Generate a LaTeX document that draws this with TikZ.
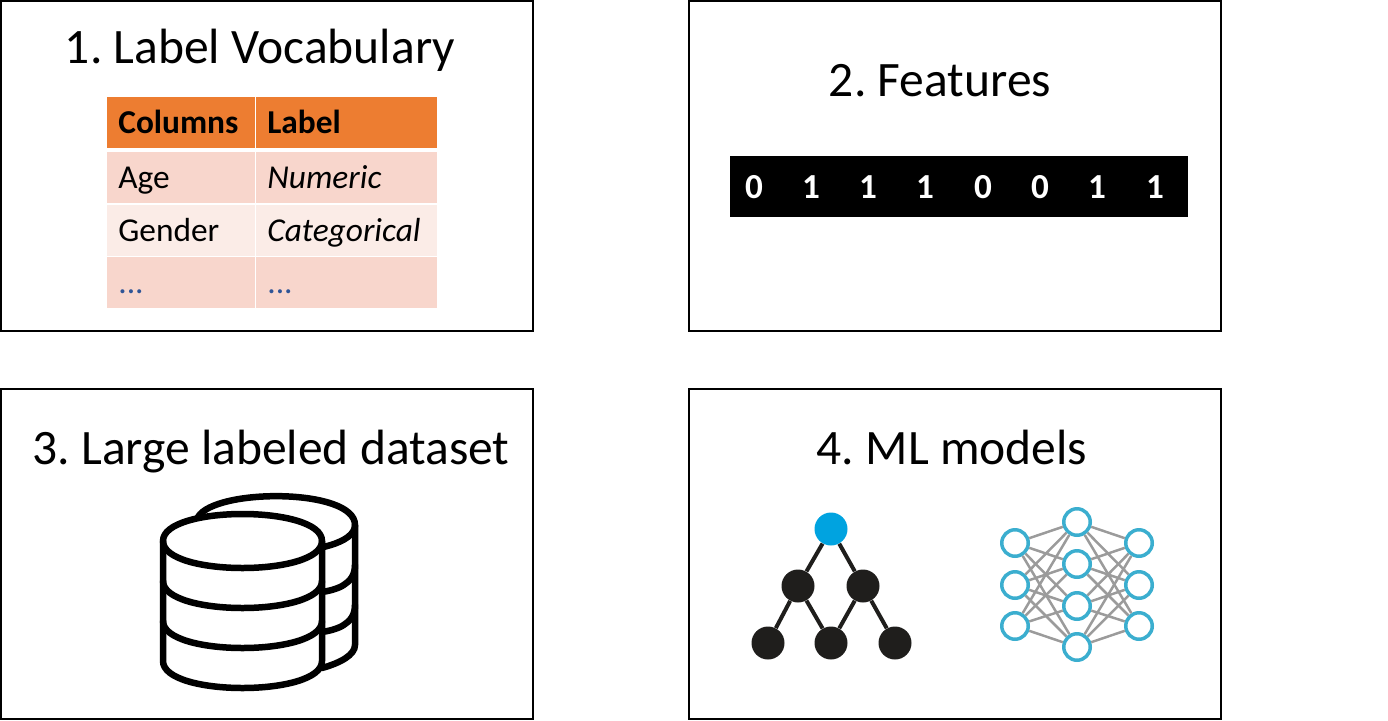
\documentclass[tikz,border=0pt]{standalone}
\usepackage{fontspec}
\setmainfont{Carlito}
\usepackage{tikz}

\definecolor{headorange}{HTML}{ED7D31}
\definecolor{rowdark}{HTML}{F8D6CC}
\definecolor{rowlight}{HTML}{FBECE7}
\definecolor{dotblue}{HTML}{2F5597}
\definecolor{rootblue}{HTML}{00A3E0}
\definecolor{treeblack}{HTML}{1F1E1C}
\definecolor{ringblue}{HTML}{3BAECF}
\definecolor{linkgray}{HTML}{9B9B9B}

\frenchspacing

\begin{document}
\begin{tikzpicture}[
    x=0.02cm,
    y=-0.02cm,
    panel/.style={
        draw=black,
        line width=0.03cm,
        minimum width=10.64cm,
        minimum height=6.6cm,
        inner sep=0pt
    },
    title/.style={
        anchor=base,
        inner sep=0pt,
        font=\fontsize{28.2pt}{32pt}\selectfont
    },
    cell/.style={
        anchor=north west,
        inner xsep=0.22cm,
        inner ysep=0pt,
        align=left,
        text height=0.59cm,
        text depth=0.16cm,
        minimum height=1.02cm,
        font=\fontsize{19pt}{22pt}\selectfont
    },
    leftcell/.style={cell, text width=2.51cm},
    rightcell/.style={cell, text width=3.18cm},
    digit/.style={
        text=white,
        inner sep=0pt,
        font=\fontsize{20pt}{22pt}\selectfont\bfseries
    },
    treenode/.style={
        circle,
        fill=treeblack,
        inner sep=0pt,
        minimum size=0.66cm
    },
    rootnode/.style={treenode, fill=rootblue},
    treeedge/.style={draw=treeblack, line width=0.08cm},
    neuron/.style={
        circle,
        draw=ringblue,
        fill=white,
        line width=0.07cm,
        inner sep=0pt,
        minimum size=0.53cm
    },
    link/.style={draw=linkgray, line width=0.05cm},
    dbline/.style={draw=black, line width=0.13cm, line join=round, line cap=round}
]

\useasboundingbox (0,0) rectangle (1388,720);

\node (vocab) [panel] at (267,166) {};
\node (features) [panel] at (955,166) {};
\node (dataset) [panel] at (267,554) {};
\node (models) [panel] at (955,554) {};

\node (vocabtitle) [title] at (260,63) {1. Label Vocabulary};
\node (featurestitle) [title] at (940,96) {2. Features};
\node (datasettitle) [title] at (271,464) {3. Large labeled dataset};
\node (modelstitle) [title] at (952,464) {4. ML models};

\node (colhead) [leftcell, fill=headorange] at (107,97) {\textbf{Columns}};
\node (labelhead) [rightcell, fill=headorange] at (256,97) {\textbf{Label}};
\node (age) [leftcell, fill=rowdark] at (107,152) {Age};
\node (numeric) [rightcell, fill=rowdark] at (256,152) {\textit{Numeric}};
\node (gender) [leftcell, fill=rowlight] at (107,205) {Gender};
\node (categorical) [rightcell, fill=rowlight] at (256,205) {\textit{Categorical}};
\node (moreleft) [leftcell, fill=rowdark, text=dotblue] at (107,257) {...};
\node (moreright) [rightcell, fill=rowdark, text=dotblue] at (256,257) {...};

\node (strip) [fill=black, inner sep=0pt, minimum width=9.16cm, minimum height=1.22cm] at (959,186.5) {};
\foreach \i/\x/\b in {1/754/0,2/811/1,3/868/1,4/925/1,5/983/0,6/1040/0,7/1097/1,8/1155/1}
    \node (bit\i) [digit] at (\x,187) {\b};

\draw [dbline] (198,517) .. controls (215,488) and (355,488) .. (355,525) -- (355,645)
    .. controls (355,655) and (340,663) .. (322,668);
\draw [dbline] (355,525) .. controls (355,561) and (195,561) .. (195,525);
\foreach \y in {565,605}
    \draw [dbline] (355,\y) .. controls (355,\y+20) and (335,\y+25) .. (322,\y+27);

\draw [dbline, fill=white] (163,541) .. controls (163,505) and (322,505) .. (322,541) -- (322,661)
    .. controls (322,697) and (163,697) .. (163,661) -- cycle;
\foreach \y in {541,581,621}
    \draw [dbline] (163,\y) .. controls (163,\y+36) and (322,\y+36) .. (322,\y);

\node (root) [rootnode] at (831,529) {};
\node (midleft) [treenode] at (798,586) {};
\node (midright) [treenode] at (863,586) {};
\node (leafa) [treenode] at (768,643) {};
\node (leafb) [treenode] at (831,643) {};
\node (leafc) [treenode] at (895,643) {};

\draw [treeedge] (root) -- (midleft);
\draw [treeedge] (root) -- (midright);
\draw [treeedge] (midleft) -- (leafa);
\draw [treeedge] (midleft) -- (leafb);
\draw [treeedge] (midright) -- (leafb);
\draw [treeedge] (midright) -- (leafc);

\foreach \i/\y in {1/543,2/585,3/626} {
    \node (in\i) [neuron] at (1015,\y) {};
    \node (out\i) [neuron] at (1139,\y) {};
}
\foreach \j/\y in {1/522,2/564,3/606,4/647}
    \node (hid\j) [neuron] at (1077,\y) {};

\foreach \i in {1,2,3}
    \foreach \j in {1,2,3,4} {
        \draw [link] (in\i) -- (hid\j);
        \draw [link] (hid\j) -- (out\i);
    }

\end{tikzpicture}
\end{document}
